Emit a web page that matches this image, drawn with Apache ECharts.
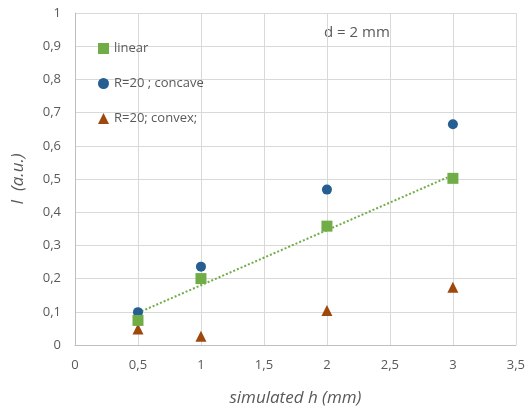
<!DOCTYPE html>
<html><head><meta charset="utf-8">
<script src="https://cdn.jsdelivr.net/npm/echarts@6/dist/echarts.min.js"></script>
<style>html,body{margin:0;padding:0;background:#fff}#c{width:528px;height:412px}</style>
</head><body><div id="c"></div>
<script>
const xValues = [0.5, 1, 2, 3];
const linearVals = [0.074, 0.200, 0.358, 0.502];
const concaveVals = [0.099, 0.236, 0.468, 0.665];
const convexVals = [0.048, 0.026, 0.104, 0.174];
const trendX = [0.5, 3];
const trendY = [0.097, 0.512];
const seriesNames = ['linear', 'R=20 ; concave', 'R=20; convex;'];
const annotation = 'd = 2 mm';

const font = 'Open Sans, Liberation Sans, sans-serif';
const txt = '#595959';
const fmt = v => String(+v.toFixed(1)).replace('.', ',');
const pairs = (xs, ys) => xs.map((x, i) => [x, ys[i]]);

const chart = echarts.init(document.getElementById('c'));
chart.setOption({
  animation: false,
  grid: { left: 75, right: 10, top: 13, bottom: 64 },
  xAxis: {
    type: 'value', min: 0, max: 3.5, interval: 0.5,
    name: 'simulated h (mm)', nameLocation: 'middle', nameGap: 45,
    nameTextStyle: { fontStyle: 'italic', fontSize: 17, color: txt, fontFamily: font },
    axisLine: { lineStyle: { color: '#bfbfbf' } },
    axisTick: { show: false },
    axisLabel: { formatter: fmt, color: txt, fontSize: 13, fontFamily: font, margin: 14 },
    splitLine: { lineStyle: { color: '#d9d9d9' } }
  },
  yAxis: {
    type: 'value', min: 0, max: 1, interval: 0.1,
    name: 'I  (a.u.)', nameLocation: 'middle', nameGap: 48,
    nameTextStyle: { fontStyle: 'italic', fontSize: 17, color: txt, fontFamily: font },
    axisLine: { show: true, lineStyle: { color: '#bfbfbf' } },
    axisTick: { show: false },
    axisLabel: { formatter: fmt, color: txt, fontSize: 13, fontFamily: font, margin: 14 },
    splitLine: { lineStyle: { color: '#d9d9d9' } }
  },
  legend: {
    orient: 'vertical', left: 93, top: 37, itemGap: 22,
    itemWidth: 11, itemHeight: 11,
    data: [
      { name: seriesNames[0], icon: 'rect' },
      { name: seriesNames[1], icon: 'circle' },
      { name: seriesNames[2], icon: 'triangle' }
    ],
    textStyle: { color: txt, fontSize: 13, fontFamily: font }
  },
  graphic: [{
    type: 'text', left: 324, top: 25,
    style: { text: annotation, fill: txt, fontSize: 15, fontFamily: font }
  }],
  series: [
    {
      name: 'trend', type: 'line', data: pairs(trendX, trendY), symbol: 'none',
      lineStyle: { color: '#70ad47', width: 2, type: [2, 2] }, z: 1, silent: true
    },
    {
      name: seriesNames[0], type: 'scatter', data: pairs(xValues, linearVals),
      symbol: 'rect', symbolSize: 11, itemStyle: { color: '#70ad47', opacity: 1 }, z: 3
    },
    {
      name: seriesNames[1], type: 'scatter', data: pairs(xValues, concaveVals),
      symbol: 'circle', symbolSize: 10, itemStyle: { color: '#255e91', opacity: 1 }, z: 2
    },
    {
      name: seriesNames[2], type: 'scatter', data: pairs(xValues, convexVals),
      symbol: 'triangle', symbolSize: 11, itemStyle: { color: '#9e480e', opacity: 1 }, z: 2
    }
  ]
});
</script></body></html>
